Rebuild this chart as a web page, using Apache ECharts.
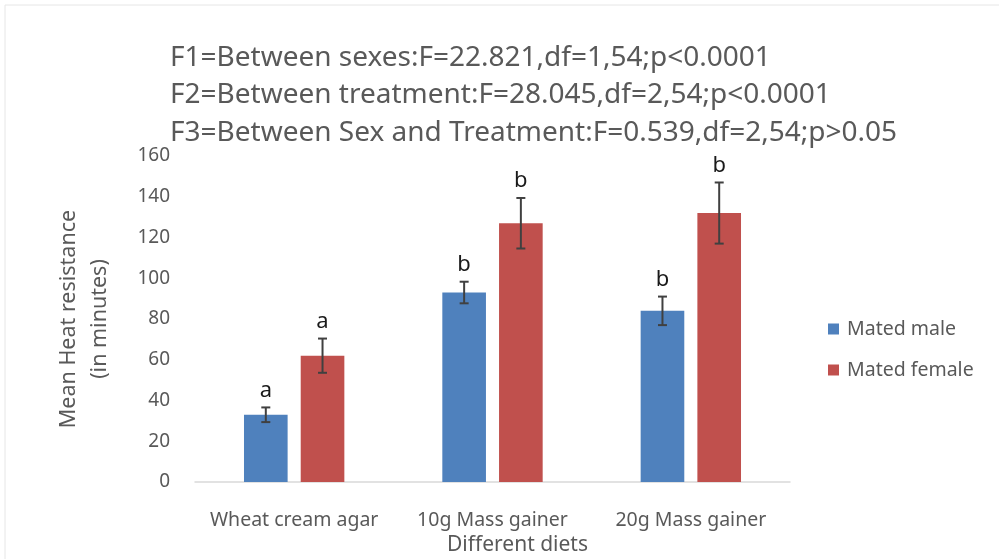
<!DOCTYPE html>
<html>
<head>
<meta charset="utf-8">
<script src="https://cdn.jsdelivr.net/npm/echarts@6/dist/echarts.min.js"></script>
<style>
  html, body { margin: 0; padding: 0; background: #fff; }
  #chart { width: 999px; height: 559px; }
</style>
</head>
<body>
<div id="chart"></div>
<script>
  var diets = ['Wheat cream agar', '10g Mass gainer', '20g Mass gainer'];
  var maleMean = [33, 93, 84];
  var femaleMean = [62, 127, 132];
  var maleErr = [3.6, 5.3, 7];
  var femaleErr = [8.4, 12.4, 15];
  var maleLetters = ['a', 'b', 'b'];
  var femaleLetters = ['a', 'b', 'b'];
  var statLines = [
    'F1=Between sexes:F=22.821,df=1,54;p<0.0001',
    'F2=Between treatment:F=28.045,df=2,54;p<0.0001',
    'F3=Between Sex and Treatment:F=0.539,df=2,54;p>0.05'
  ];

  var barW = 0.22, barGap = 0.3;
  var font = '"Noto Sans", sans-serif';
  var grey = '#595959';

  // error bar + letter rows: [category, low, high, sex(0 male / 1 female), letter]
  var errRows = [];
  diets.forEach(function (d, i) {
    errRows.push([i, maleMean[i] - maleErr[i], maleMean[i] + maleErr[i], 0, maleLetters[i]]);
    errRows.push([i, femaleMean[i] - femaleErr[i], femaleMean[i] + femaleErr[i], 1, femaleLetters[i]]);
  });

  var chart = echarts.init(document.getElementById('chart'));
  var option = {
    backgroundColor: '#fff',
    animation: false,
    color: ['#4f81bd', '#c0504d'],
    title: {
      text: statLines.join('\n'),
      left: 170,
      top: 39,
      padding: 0,
      textStyle: { fontFamily: font, fontSize: 28, fontWeight: 'normal', color: grey, lineHeight: 37.5 }
    },
    graphic: [{
      type: 'polyline',
      shape: { points: [[5, 559], [5, 5], [999, 5]] },
      style: { stroke: '#e6e6e6', fill: null, lineWidth: 1 },
      silent: true
    }],
    legend: {
      orient: 'vertical',
      left: 823,
      top: 314,
      icon: 'rect',
      itemWidth: 11,
      itemHeight: 11,
      itemGap: 21,
      textStyle: { fontFamily: font, fontSize: 19.5, color: grey, padding: [0, 0, 0, 3] },
      data: ['Mated male', 'Mated female']
    },
    grid: { left: 195, right: 209, top: 156, bottom: 77, outerBoundsMode: 'none' },
    xAxis: {
      type: 'category',
      data: diets,
      name: 'Different diets',
      nameLocation: 'middle',
      nameGap: 33,
      nameTextStyle: { fontFamily: font, fontSize: 21, color: grey, padding: [0, 0, 0, 50] },
      axisLine: { lineStyle: { color: '#d9d9d9', width: 1.5 } },
      axisTick: { show: false },
      axisLabel: { fontFamily: font, fontSize: 19.5, color: grey, margin: 28, interval: 0, hideOverlap: false }
    },
    yAxis: {
      type: 'value',
      min: 0,
      max: 160,
      interval: 20,
      name: 'Mean Heat resistance\n(in minutes)',
      nameLocation: 'middle',
      nameGap: 80,
      nameTextStyle: { fontFamily: font, fontSize: 21.5, color: grey, lineHeight: 31 },
      splitLine: { show: false },
      axisLine: { show: false },
      axisTick: { show: false },
      axisLabel: { fontFamily: font, fontSize: 19, color: grey, margin: 25 }
    },
    series: [{
      name: 'Mated male',
      type: 'bar',
      data: maleMean,
      barWidth: (barW * 100) + '%',
      barGap: (barGap * 100) + '%'
    }, {
      name: 'Mated female',
      type: 'bar',
      data: femaleMean,
      barWidth: (barW * 100) + '%',
      barGap: (barGap * 100) + '%'
    }, {
      type: 'custom',
      data: errRows,
      encode: { x: 0, y: [1, 2] },
      z: 10,
      renderItem: function (params, api) {
        var band = api.size([1, 0])[0];
        var off = (api.value(3) === 0 ? -1 : 1) * band * barW * (1 + barGap) / 2;
        var hi = api.coord([api.value(0), api.value(2)]);
        var lo = api.coord([api.value(0), api.value(1)]);
        var x = hi[0] + off;
        var cap = 4.5;
        var ls = { stroke: '#404040', lineWidth: 2 };
        return {
          type: 'group',
          children: [
            { type: 'line', shape: { x1: x, y1: hi[1], x2: x, y2: lo[1] }, style: ls },
            { type: 'line', shape: { x1: x - cap, y1: hi[1], x2: x + cap, y2: hi[1] }, style: ls },
            { type: 'line', shape: { x1: x - cap, y1: lo[1], x2: x + cap, y2: lo[1] }, style: ls },
            {
              type: 'text',
              x: x,
              y: hi[1] - 6,
              style: {
                text: api.value(4),
                fontFamily: font,
                fontSize: 22,
                fill: '#1a1a1a',
                align: 'center',
                verticalAlign: 'bottom'
              }
            }
          ]
        };
      }
    }]
  };
  chart.setOption(option);
</script>
</body>
</html>
